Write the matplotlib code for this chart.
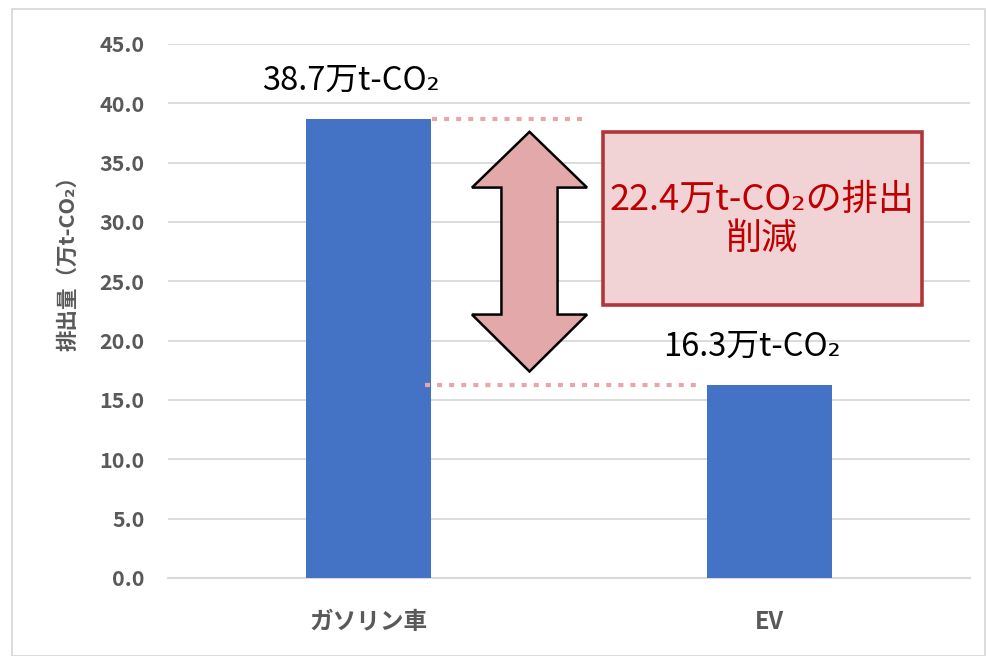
import matplotlib
matplotlib.use("Agg")
import matplotlib.pyplot as plt
from matplotlib.patches import Polygon, Rectangle

plt.rcParams['font.family'] = ['Noto Sans CJK JP', 'DejaVu Sans']

categories = ["ガソリン車", "EV"]
values = [38.7, 16.3]
value_labels = ["38.7万t-CO₂", "16.3万t-CO₂"]
yticks = [0, 5, 10, 15, 20, 25, 30, 35, 40, 45]
reduction_label = "22.4万t-CO₂の排出\n削減"
ylabel = "排出量（万t-CO₂）"

W, H = 987, 656
fig = plt.figure(figsize=(W / 100, H / 100), dpi=100)
ax = fig.add_axes([168 / W, (H - 578) / H, (970 - 168) / W, (578 - 44) / H])

x = list(range(len(categories)))
ax.bar(x, values, width=0.312, color="#4472C4", zorder=3)
ax.set_xlim(-0.5, 1.5)
ax.set_ylim(0, 45)
ax.set_yticks(yticks)
ax.set_yticklabels([f"{v:.1f}" for v in yticks], fontsize=15.5, fontweight="bold", color="#595959")
ax.set_xticks(x)
ax.set_xticklabels(categories, fontsize=17, fontweight="bold", color="#595959")
ax.tick_params(axis="both", length=0)
ax.tick_params(axis="y", pad=17)
ax.tick_params(axis="x", pad=23)
ax.grid(axis="y", color="#D9D9D9", linewidth=1.3, zorder=0)
for s in ["top", "right", "left"]:
    ax.spines[s].set_visible(False)
ax.spines["bottom"].set_color("#D9D9D9")
ax.spines["bottom"].set_linewidth(1.5)
ax.set_ylabel(ylabel, fontsize=15.5, fontweight="bold", color="#595959", va="center")
ax.yaxis.set_label_coords(-0.1253, 0.599)

# value labels
for xi, v, lab in zip(x, values, value_labels):
    ax.text(xi - 0.045, v + 3.2, lab, ha="center", va="center", fontsize=23.5, color="black", zorder=5)

# dotted guide lines
dot_col = "#E6A6AA"
dots = (0, (1.2, 1.7))
ax.plot([0.158, 0.54], [values[0], values[0]], color=dot_col, lw=3.0, ls=dots, zorder=4)
ax.plot([0.141, 0.834], [values[1], values[1]], color=dot_col, lw=3.0, ls=dots, zorder=4)

# double-headed block arrow
cx = 0.4015
hw = 0.1435   # head half-width
sw = 0.07     # shaft half-width
top_tip, bot_tip = 37.6, 17.4
top_base, bot_base = 32.9, 22.2
pts = [
    (cx, top_tip), (cx + hw, top_base), (cx + sw, top_base), (cx + sw, bot_base),
    (cx + hw, bot_base), (cx, bot_tip), (cx - hw, bot_base), (cx - sw, bot_base),
    (cx - sw, top_base), (cx - hw, top_base),
]
ax.add_patch(Polygon(pts, closed=True, facecolor="#E3A8AA", edgecolor="black", lw=1.8, zorder=6))

# annotation box
ax.add_patch(Rectangle((0.585, 23.0), 1.380 - 0.585, 37.57 - 23.0, facecolor="#F2D3D5",
                       edgecolor="#B0363C", lw=2.6, zorder=6))
ax.text(0.982, 30.2, reduction_label, ha="center", va="center", fontsize=26,
        color="#C00000", linespacing=1.12, zorder=7)

# chart outer border
fig.patches.append(Rectangle((12 / W, 0), (985 - 12) / W, (H - 9) / H, transform=fig.transFigure,
                             fill=False, edgecolor="#D9D9D9", lw=1.3))

fig.savefig("out.png", dpi=100)
